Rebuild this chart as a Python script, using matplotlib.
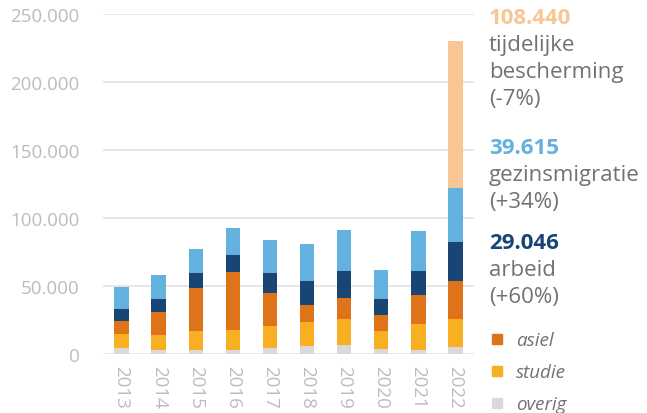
import matplotlib.pyplot as plt
from matplotlib.patches import Rectangle
import numpy as np

# data
jaren = ["2013", "2014", "2015", "2016", "2017", "2018", "2019", "2020", "2021", "2022"]
overig = [4200, 3000, 3000, 3000, 4000, 5900, 6600, 3500, 2700, 5200]
studie = [10500, 10800, 13500, 14700, 16400, 17400, 19200, 13000, 19200, 20600]
asiel = [9200, 17100, 32100, 42700, 24100, 12800, 15200, 12200, 21100, 27500]
arbeid = [9000, 9400, 11100, 12300, 14700, 17700, 20100, 11800, 18150, 29046]
gezinsmigratie = [16000, 17400, 17400, 20100, 24600, 27000, 30000, 21200, 29560, 39615]
tijdelijk = [0, 0, 0, 0, 0, 0, 0, 0, 0, 108440]
yticks = [0, 50000, 100000, 150000, 200000, 250000]

kleuren = {
    "overig": "#d9d9d9",
    "studie": "#f8b022",
    "asiel": "#de731a",
    "arbeid": "#184574",
    "gezinsmigratie": "#63b1de",
    "tijdelijk": "#f9c594",
}
grijs = "#727272"
licht = "#bcbcbc"

plt.rcParams["font.family"] = ["Open Sans", "DejaVu Sans"]

W, H = 647, 414
fig = plt.figure(figsize=(W / 100, H / 100), dpi=100)
ax = fig.add_axes([103 / W, 1 - 354.7 / H, 371 / W, 339.4 / H])

x = np.arange(len(jaren))
bottom = np.zeros(len(jaren))
reeksen = [("overig", overig), ("studie", studie), ("asiel", asiel),
           ("arbeid", arbeid), ("gezinsmigratie", gezinsmigratie),
           ("tijdelijk", tijdelijk)]
for naam, vals in reeksen:
    vals = np.array(vals, dtype=float)
    ax.bar(x, vals, bottom=bottom, width=0.39, color=kleuren[naam], zorder=3, linewidth=0)
    bottom += vals

ax.set_xlim(-0.5, len(jaren) - 0.5)
ax.set_ylim(0, 250000)
ax.set_yticks(yticks)
ax.set_yticklabels([f"{v:,}".replace(",", ".") for v in yticks], fontsize=13.5, color=licht)
ax.set_xticks(x)
ax.set_xticklabels(jaren, rotation=270, fontsize=13.5, color=licht)
ax.tick_params(axis="y", length=0, pad=17)
ax.tick_params(axis="x", length=0, pad=8)
ax.grid(axis="y", color="#e6e6e6", linewidth=1.4, zorder=0)
for s in ax.spines.values():
    s.set_visible(False)

# annotaties rechts
def fy(px):
    return 1 - px / H

def fmt(v):
    return f"{v:,}".replace(",", ".")

tx = 489 / W
blokken = [
    (tijdelijk[-1], kleuren["tijdelijk"], ["tijdelijke", "bescherming", "(-7%)"], 24),
    (gezinsmigratie[-1], kleuren["gezinsmigratie"], ["gezinsmigratie", "(+34%)"], 154),
    (arbeid[-1], kleuren["arbeid"], ["arbeid", "(+60%)"], 249),
]
for waarde, kleur, regels, y0 in blokken:
    fig.text(tx, fy(y0), fmt(waarde), color=kleur, fontsize=16, fontweight="bold", va="baseline")
    for i, r in enumerate(regels):
        fig.text(tx, fy(y0 + 27 * (i + 1)), r, color=grijs, fontsize=16, va="baseline")

# legenda
legenda = [("asiel", kleuren["asiel"], 340), ("studie", kleuren["studie"], 372), ("overig", kleuren["overig"], 404)]
for naam, kleur, yc in legenda:
    fig.add_artist(Rectangle((492 / W, fy(yc + 5)), 10 / W, 10 / H, color=kleur,
                             transform=fig.transFigure))
    fig.text(516 / W, fy(yc + 6), naam, color=grijs, fontsize=13.5, style="italic", va="baseline")

fig.savefig("out.png", dpi=100)
